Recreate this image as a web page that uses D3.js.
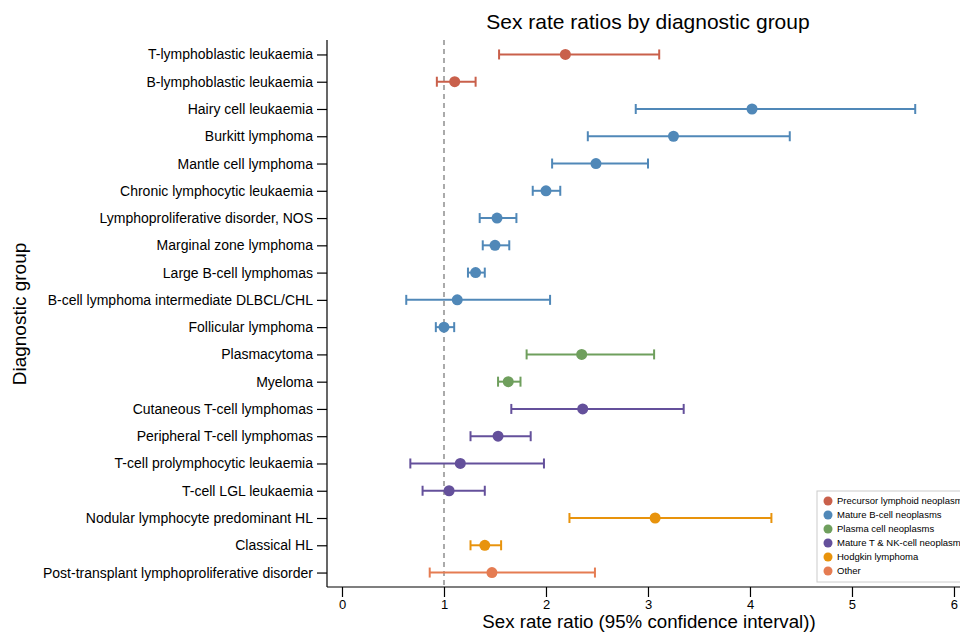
<!DOCTYPE html>
<html>
<head>
<meta charset="utf-8">
<script src="https://cdn.jsdelivr.net/npm/d3@7"></script>
<style>
  body { margin: 0; background: #fff; }
  text { font-family: "Liberation Sans", Arial, sans-serif; }
</style>
</head>
<body>
<div id="chart"></div>
<script>
const groups = [
  "T-lymphoblastic leukaemia", "B-lymphoblastic leukaemia", "Hairy cell leukaemia",
  "Burkitt lymphoma", "Mantle cell lymphoma", "Chronic lymphocytic leukaemia",
  "Lymphoproliferative disorder, NOS", "Marginal zone lymphoma", "Large B-cell lymphomas",
  "B-cell lymphoma intermediate DLBCL/CHL", "Follicular lymphoma", "Plasmacytoma", "Myeloma",
  "Cutaneous T-cell lymphomas", "Peripheral T-cell lymphomas", "T-cell prolymphocytic leukaemia",
  "T-cell LGL leukaemia", "Nodular lymphocyte predominant HL", "Classical HL",
  "Post-transplant lymphoproliferative disorder"
]
const ratio = [2.19, 1.105, 4.02, 3.25, 2.49, 2.0, 1.52, 1.50, 1.31, 1.13, 1.0, 2.35, 1.63,
  2.36, 1.53, 1.16, 1.05, 3.07, 1.40, 1.47]
const lower = [1.54, 0.93, 2.88, 2.41, 2.06, 1.87, 1.35, 1.38, 1.235, 0.63, 0.92, 1.81, 1.53,
  1.66, 1.26, 0.67, 0.79, 2.23, 1.26, 0.86]
const upper = [3.11, 1.31, 5.62, 4.39, 3.0, 2.14, 1.71, 1.64, 1.40, 2.04, 1.10, 3.06, 1.75,
  3.35, 1.85, 1.98, 1.40, 4.21, 1.56, 2.48]
const family = [0, 0, 1, 1, 1, 1, 1, 1, 1, 1, 1, 2, 2, 3, 3, 3, 3, 4, 4, 5]
const families = ["Precursor lymphoid neoplasms", "Mature B-cell neoplasms", "Plasma cell neoplasms",
  "Mature T & NK-cell neoplasms", "Hodgkin lymphoma", "Other"]
const colors = ["#c9604b", "#5088b8", "#6f9f5d", "#64509b", "#e8930c", "#e57c52"]
const xTicks = [0, 1, 2, 3, 4, 5, 6]

const data = groups.map((g, i) => ({ g, r: ratio[i], lo: lower[i], hi: upper[i], f: family[i] }))

const width = 960, height = 632
const margin = { top: 40, right: 0, bottom: 45, left: 327 }

const svg = d3.select("#chart").append("svg")
  .attr("width", width)
  .attr("height", height)

const x = d3.scaleLinear().domain([-0.147, 6.059]).range([margin.left, width - margin.right])
const y = d3.scalePoint().domain(groups).range([margin.top, height - margin.bottom]).padding(0.53)
const color = d3.scaleOrdinal().domain(d3.range(6)).range(colors)

// reference line at 1
svg.append("line")
  .attr("x1", x(1)).attr("x2", x(1))
  .attr("y1", margin.top).attr("y2", height - margin.bottom)
  .style("stroke", "#aaa")
  .style("stroke-width", 2)
  .style("stroke-dasharray", "5,4")

// axes
const xAxis = svg.append("g")
  .attr("transform", "translate(0," + (height - margin.bottom) + ")")
  .call(d3.axisBottom(x).tickValues(xTicks).tickSize(10).tickPadding(3).tickFormat(d3.format("d")))
xAxis.selectAll("text").style("font-size", "13px").attr("fill", "#000")
xAxis.selectAll("line, path").attr("stroke", "#000").attr("stroke-width", 1.2)
xAxis.select(".domain").attr("d", "M" + margin.left + ",0H" + width)

const yAxis = svg.append("g")
  .attr("transform", "translate(" + margin.left + ",0)")
  .call(d3.axisLeft(y).tickSize(10).tickPadding(4).tickSizeOuter(0))
yAxis.selectAll("text").style("font-size", "14px").attr("fill", "#000")
yAxis.selectAll("line, path").attr("stroke", "#000").attr("stroke-width", 1.2)
yAxis.select(".domain").attr("d", "M0," + margin.top + "V" + (height - margin.bottom))

// error bars
const rows = svg.append("g").selectAll("g")
  .data(data)
  .join("g")
  .attr("transform", d => "translate(0," + y(d.g) + ")")
  .style("stroke", d => color(d.f))
  .style("fill", d => color(d.f))

rows.append("line")
  .attr("x1", d => x(d.lo)).attr("x2", d => x(d.hi))
  .style("stroke-width", 2)
rows.append("line")
  .attr("x1", d => x(d.lo)).attr("x2", d => x(d.lo))
  .attr("y1", -5).attr("y2", 5)
  .style("stroke-width", 2)
rows.append("line")
  .attr("x1", d => x(d.hi)).attr("x2", d => x(d.hi))
  .attr("y1", -5).attr("y2", 5)
  .style("stroke-width", 2)
rows.append("circle")
  .attr("cx", d => x(d.r))
  .attr("r", 5.5)
  .style("stroke", "none")

// titles
svg.append("text")
  .attr("x", 648).attr("y", 29)
  .attr("text-anchor", "middle")
  .style("font-size", "21px")
  .text("Sex rate ratios by diagnostic group")

svg.append("text")
  .attr("x", 649).attr("y", 628)
  .attr("text-anchor", "middle")
  .style("font-size", "18.7px")
  .text("Sex rate ratio (95% confidence interval))")

svg.append("text")
  .attr("transform", "translate(26," + 314 + ") rotate(-90)")
  .attr("text-anchor", "middle")
  .style("font-size", "19px")
  .text("Diagnostic group")

// legend
const legend = svg.append("g").attr("transform", "translate(817,491)")
legend.append("rect")
  .attr("width", 150).attr("height", 91)
  .style("fill", "#fff")
  .style("stroke", "#ccc")
const item = legend.selectAll("g.item")
  .data(families)
  .join("g")
  .attr("class", "item")
  .attr("transform", (d, i) => "translate(0," + (10 + i * 14) + ")")
item.append("circle")
  .attr("cx", 11).attr("r", 4.5)
  .style("fill", (d, i) => colors[i])
item.append("text")
  .attr("x", 20).attr("dy", "0.35em")
  .style("font-size", "9.5px")
  .text(d => d)
</script>
</body>
</html>
